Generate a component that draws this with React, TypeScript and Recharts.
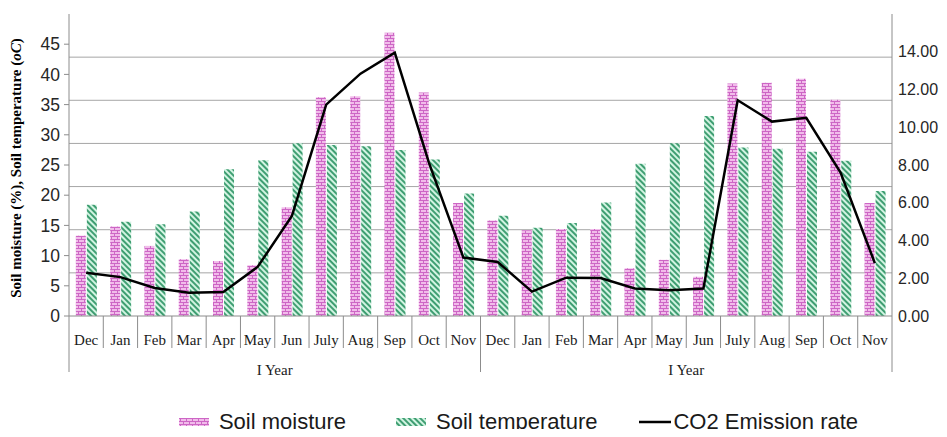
import React from 'react'
import {
  ComposedChart, Bar, Line, XAxis, YAxis, CartesianGrid, Legend
} from 'recharts'

const months = [
  'Dec', 'Jan', 'Feb', 'Mar', 'Apr', 'May', 'Jun', 'July', 'Aug', 'Sep', 'Oct', 'Nov',
  'Dec', 'Jan', 'Feb', 'Mar', 'Apr', 'May', 'Jun', 'July', 'Aug', 'Sep', 'Oct', 'Nov',
]
const yearLabels = ['I Year', 'I Year']

const soilMoisture = [
  13.3, 14.8, 11.6, 9.4, 9.1, 8.4, 18.0, 36.2, 36.4, 46.9, 37.0, 18.7,
  15.8, 14.2, 14.4, 14.4, 7.9, 9.3, 6.5, 38.5, 38.6, 39.3, 35.8, 18.7,
]
const soilTemperature = [
  18.4, 15.6, 15.2, 17.3, 24.3, 25.8, 28.6, 28.3, 28.1, 27.5, 25.9, 20.3,
  16.6, 14.6, 15.4, 18.8, 25.2, 28.6, 33.1, 27.9, 27.7, 27.2, 25.7, 20.7,
]
const co2Emission = [
  2.29, 2.06, 1.48, 1.23, 1.27, 2.6, 5.3, 11.2, 12.84, 13.95, 8.1, 3.1,
  2.86, 1.29, 2.03, 2.01, 1.46, 1.37, 1.46, 11.43, 10.3, 10.5, 7.6, 2.8,
]

const leftTicks = [0, 5, 10, 15, 20, 25, 30, 35, 40, 45]
const rightTicks = [0, 2, 4, 6, 8, 10, 12, 14]
// the gridlines split the plot into 7 equal bands, independent of both axes
const gridSteps = [1, 2, 3, 4, 5, 6]
const gridDivisions = 7

const seriesOrder = ['moisture', 'temperature', 'co2']

const data = months.map((m, i) => ({
  month: m,
  moisture: soilMoisture[i],
  temperature: soilTemperature[i],
  co2: co2Emission[i],
}))

const axisGray = '#8c8c8c'
const serif = '"Liberation Serif", "Times New Roman", serif'
const sans = '"Liberation Sans", Arial, sans-serif'

function MonthTick(props: any) {
  const { x, y, payload, index } = props
  const half = payload?.offset || 17.15
  const left = x - half
  const groupStart = index % 12 === 0
  const last = index === months.length - 1
  return (
    <g>
      <line x1={left} x2={left} y1={y} y2={y + (groupStart ? 56 : 32)} stroke={axisGray} />
      {last && <line x1={x + half} x2={x + half} y1={y} y2={y + 56} stroke={axisGray} />}
      <text x={x} y={y + 29} textAnchor="middle" fontFamily={serif} fontSize={15} fill="#1a1a1a">
        {payload.value}
      </text>
      {groupStart && (
        <text x={left + half * 12} y={y + 59} textAnchor="middle" fontFamily={serif} fontSize={15} fill="#1a1a1a">
          {yearLabels[index / 12]}
        </text>
      )}
    </g>
  )
}

function LeftTitle(props: any) {
  const vb = props.viewBox || { x: 0, y: 0, width: 0, height: 0 }
  const cx = vb.x + 8
  const cy = vb.y + vb.height / 2 + 3
  return (
    <text
      x={cx}
      y={cy}
      transform={`rotate(-90 ${cx} ${cy})`}
      textAnchor="middle"
      dominantBaseline="central"
      fontFamily={serif}
      fontWeight="bold"
      fontSize={15}
      fill="#000"
    >
      Soil moisture (%), Soil temperature (<tspan fontStyle="italic">oC</tspan>)
    </text>
  )
}

function LegendContent(props: any) {
  const items = [...(props.payload || [])].sort(
    (a: any, b: any) => seriesOrder.indexOf(a.dataKey) - seriesOrder.indexOf(b.dataKey)
  )
  return (
    <div style={{
      display: 'flex', justifyContent: 'center', alignItems: 'center', height: 14,
      fontFamily: sans, fontSize: 22, color: '#1a1a1a', lineHeight: '14px', paddingLeft: 90,
    }}>
      {items.map((it: any, i: number) => {
        const isLine = it.dataKey === 'co2'
        return (
          <span key={it.dataKey} style={{ display: 'inline-flex', alignItems: 'center', marginRight: i === 0 ? 50 : i === 1 ? 42 : 0 }}>
            {isLine ? (
              <svg width={32} height={4} style={{ marginRight: 2 }}>
                <rect width={32} height={2.5} y={0.75} fill="#000" />
              </svg>
            ) : (
              <svg width={30} height={8} style={{ marginRight: 10 }}>
                <rect width={30} height={8} fill={it.dataKey === 'moisture' ? 'url(#moisturePattern)' : 'url(#tempPattern)'} />
              </svg>
            )}
            <span style={{ whiteSpace: 'nowrap' }}>{it.value}</span>
          </span>
        )
      })}
    </div>
  )
}

const gridGenerator = ({ offset }: any) =>
  gridSteps.map((s) => offset.top + offset.height * (1 - s / gridDivisions))

export default function App() {
  return (
    <ComposedChart
      width={931}
      height={421}
      data={data}
      margin={{ top: 6, right: 0, left: 0, bottom: 0 }}
      barCategoryGap="20%"
      barGap={1}
    >
      <defs>
        <pattern id="moisturePattern" width="6" height="6" patternUnits="userSpaceOnUse">
          <rect width="6" height="6" fill="#f1bcea" />
          <path d="M0 0.5 H6 M0 3.5 H6 M1.5 0 V3 M4.5 3 V6" stroke="#cd66c5" strokeWidth="1" fill="none" />
        </pattern>
        <pattern id="tempPattern" width="4" height="4" patternUnits="userSpaceOnUse" patternTransform="rotate(-45)">
          <rect width="4" height="4" fill="#d2f4e2" />
          <rect width="2" height="4" fill="#3f9e72" />
        </pattern>
      </defs>
      <CartesianGrid
        vertical={false}
        stroke="#a6a6a6"
        horizontalCoordinatesGenerator={gridGenerator}
      />
      <XAxis
        dataKey="month"
        interval={0}
        height={99}
        tickLine={false}
        tickSize={0}
        tickMargin={0}
        axisLine={{ stroke: axisGray }}
        tick={<MonthTick />}
      />
      <YAxis
        yAxisId="left"
        orientation="left"
        domain={[0, 50]}
        ticks={leftTicks}
        width={61}
        tickSize={5}
        tickMargin={4}
        axisLine={{ stroke: axisGray }}
        tickLine={{ stroke: axisGray }}
        tick={{ fontSize: 17.5, fontFamily: sans, fill: '#262626' }}
        label={<LeftTitle />}
      />
      <YAxis
        yAxisId="right"
        orientation="right"
        domain={[0, 16]}
        ticks={rightTicks}
        width={47}
        tickSize={4}
        tickMargin={2}
        tickLine={false}
        axisLine={{ stroke: axisGray }}
        tickFormatter={(v: number) => v.toFixed(2)}
        tick={{ fontSize: 16, fontFamily: sans, fill: '#262626' }}
      />
      <Legend verticalAlign="bottom" content={<LegendContent />} />
      <Bar yAxisId="left" dataKey="moisture" name="Soil moisture" fill="url(#moisturePattern)" isAnimationActive={false} />
      <Bar yAxisId="left" dataKey="temperature" name="Soil temperature" fill="url(#tempPattern)" isAnimationActive={false} />
      <Line
        yAxisId="right"
        type="linear"
        dataKey="co2"
        name="CO2 Emission rate"
        stroke="#000"
        strokeWidth={2.5}
        dot={false}
        activeDot={false}
        isAnimationActive={false}
      />
    </ComposedChart>
  )
}
